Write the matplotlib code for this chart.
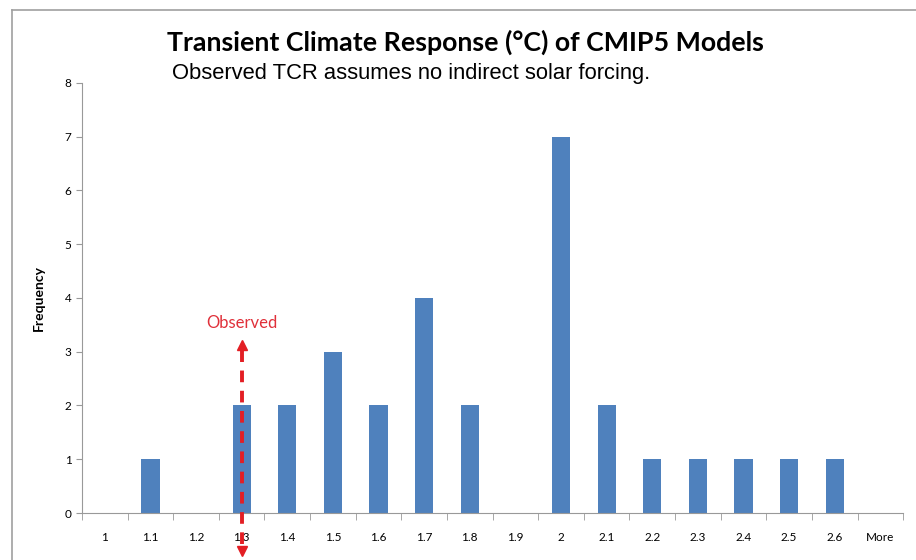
import numpy as np
import matplotlib.pyplot as plt
from matplotlib.lines import Line2D

bins = ['1', '1.1', '1.2', '1.3', '1.4', '1.5', '1.6', '1.7', '1.8', '1.9',
        '2', '2.1', '2.2', '2.3', '2.4', '2.5', '2.6', 'More']
freq = [0, 1, 0, 2, 2, 3, 2, 4, 2, 0, 7, 2, 1, 1, 1, 1, 1, 0]
obs_bin = '1.3'
obs_top = 3.13
obs_bottom = -0.7

fig = plt.figure(figsize=(9.16, 5.6), dpi=100)
ax = fig.add_axes([0.0895, 0.0839, 0.8965, 0.7681])

x = np.arange(len(bins))
ax.bar(x, freq, width=0.4, color='#4F81BD', zorder=2)

ax.set_xlim(-0.5, len(bins) - 0.5)
ax.set_ylim(0, 8)
ax.set_yticks(range(0, 9))
ax.set_xticks(x)
ax.set_xticklabels(bins, family='Lato', fontsize=8.5)
ax.set_xticks(np.arange(-0.5, len(bins) + 0.5, 1), minor=True)
ax.tick_params(axis='x', which='major', length=0, pad=14)
ax.tick_params(axis='x', which='minor', length=5, color='#999999')
ax.tick_params(axis='y', length=4, color='#999999', labelsize=8.5)
for lab in ax.get_yticklabels():
    lab.set_family('Lato')
ax.spines['top'].set_visible(False)
ax.spines['right'].set_visible(False)
ax.spines['left'].set_color('#999999')
ax.spines['bottom'].set_color('#999999')
ax.set_ylabel('Frequency', family='Lato', fontweight='bold', fontsize=10, labelpad=14)

# observed TCR arrow
xo = bins.index(obs_bin)
ax.plot([xo, xo], [obs_bottom + 0.12, obs_top - 0.12], color='#E31E24', lw=2.8,
        ls=(0, (3, 2.2)), clip_on=False, zorder=4)
ax.plot([xo], [obs_top], marker='^', color='#E31E24', ms=7, clip_on=False, zorder=4)
ax.plot([xo], [obs_bottom], marker='v', color='#E31E24', ms=7, clip_on=False, zorder=4)
ax.text(xo, obs_top + 0.25, 'Observed', color='#E0303A', ha='center', va='bottom',
        family='Lato', fontsize=12)

fig.text(0.508, 0.925, 'Transient Climate Response (\u00b0C) of CMIP5 Models',
         ha='center', va='center', family='Lato', fontweight='bold', fontsize=19.3)
fig.text(0.188, 0.868, 'Observed TCR assumes no indirect solar forcing.',
         ha='left', va='center', family=['Liberation Sans Narrow', 'Liberation Sans'],
         fontsize=15.8)

# outer chart frame
fig.add_artist(Line2D([12 / 916, 12 / 916], [0, 1 - 10 / 560], color='#A0A0A0', lw=1.2))
fig.add_artist(Line2D([12 / 916, 1], [1 - 10 / 560, 1 - 10 / 560], color='#A0A0A0', lw=1.2))

fig.savefig('out.png', dpi=100)
